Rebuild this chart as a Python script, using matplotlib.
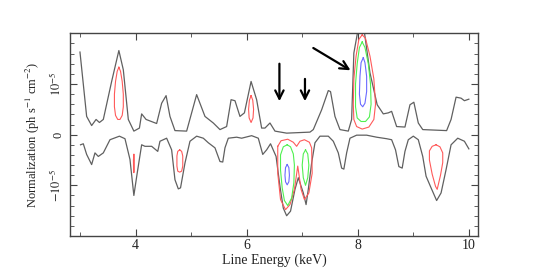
import numpy as np
import matplotlib
matplotlib.use('Agg')
import matplotlib.pyplot as plt
from matplotlib.ticker import MultipleLocator

plt.rcParams['font.family'] = ['Liberation Serif', 'DejaVu Serif']
plt.rcParams['mathtext.fontset'] = 'stix'

# normalization in units of 1e-5
upper_e = [3.00, 3.12, 3.21, 3.29, 3.35, 3.42, 3.57, 3.70, 3.78, 3.87, 3.97, 4.07, 4.11, 4.19,
           4.38, 4.47, 4.55, 4.62, 4.71, 4.92, 5.01, 5.10, 5.25, 5.40, 5.52, 5.64, 5.72, 5.79,
           5.88, 5.96, 6.08, 6.18, 6.27, 6.33, 6.42, 6.51, 6.72, 7.14, 7.20, 7.35, 7.47, 7.51,
           7.59, 7.68, 7.83, 7.89, 7.93, 8.01, 8.11, 8.22, 8.35, 8.46, 8.55, 8.61, 8.70, 8.85,
           8.94, 9.01, 9.09, 9.17, 9.60, 9.68, 9.77, 9.86, 9.92, 10.0]
upper_n = [1.63, 0.36, 0.18, 0.30, 0.24, 0.30, 1.05, 1.66, 1.28, 0.30, 0.07, 0.13, 0.41, 0.30,
           0.22, 0.62, 0.77, 0.36, 0.08, 0.07, 0.43, 0.79, 0.36, 0.23, 0.10, 0.16, 0.69, 0.67,
           0.36, 0.43, 1.05, 0.69, 0.13, 0.13, 0.23, 0.07, 0.03, 0.05, 0.10, 0.49, 0.87, 0.85,
           0.36, 0.10, 0.07, 0.30, 1.61, 2.10, 2.10, 1.22, 0.59, 0.41, 0.43, 0.46, 0.16, 0.15,
           0.59, 0.64, 0.23, 0.10, 0.08, 0.30, 0.74, 0.72, 0.67, 0.70]

lower_e = [3.01, 3.06, 3.12, 3.21, 3.27, 3.33, 3.42, 3.54, 3.71, 3.81, 3.90, 3.97, 4.03, 4.11,
           4.17, 4.29, 4.40, 4.44, 4.56, 4.65, 4.71, 4.77, 4.81, 4.89, 4.98, 5.10, 5.22, 5.31,
           5.43, 5.52, 5.57, 5.61, 5.67, 5.82, 5.91, 6.09, 6.21, 6.29, 6.36, 6.43, 6.53, 6.60,
           6.66, 6.72, 6.79, 6.87, 6.93, 7.02, 7.07, 7.11, 7.17, 7.23, 7.32, 7.47, 7.56, 7.65,
           7.71, 7.75, 7.80, 7.86, 7.98, 8.16, 8.34, 8.52, 8.61, 8.68, 8.74, 8.80, 8.85, 8.91,
           9.00, 9.09, 9.17, 9.23, 9.32, 9.42, 9.50, 9.59, 9.68, 9.80, 9.92, 10.0]
lower_n = [-0.20, -0.18, -0.39, -0.59, -0.36, -0.43, -0.36, -0.10, -0.03, -0.08, -0.49, -1.20, -0.76, -0.20,
           -0.23, -0.23, -0.33, -0.13, -0.07, -0.30, -0.89, -1.07, -1.05, -0.56, -0.13, -0.03, -0.07, -0.16,
           -0.26, -0.53, -0.54, -0.26, -0.07, -0.05, -0.07, -0.02, -0.07, -0.39, -0.30, -0.18, -0.43, -1.02,
           -1.45, -1.60, -1.51, -1.08, -0.85, -1.15, -1.38, -1.08, -0.56, -0.16, -0.03, -0.03, -0.13, -0.36,
           -0.66, -0.68, -0.36, -0.07, -0.01, -0.01, -0.05, -0.08, -0.10, -0.30, -0.63, -0.66, -0.33, -0.10,
           -0.03, -0.10, -0.43, -0.82, -1.05, -1.30, -1.15, -0.69, -0.20, -0.07, -0.13, -0.28]

# contour loops (energy, normalization)
red_loops = [
    [(3.70, 1.33), (3.73, 1.25), (3.76, 1.05), (3.78, 0.80), (3.78, 0.55), (3.76, 0.38), (3.72, 0.30),
     (3.68, 0.30), (3.64, 0.38), (3.62, 0.55), (3.62, 0.80), (3.64, 1.05), (3.67, 1.25)],
    [(6.08, 0.77), (6.11, 0.68), (6.125, 0.50), (6.115, 0.33), (6.08, 0.24), (6.045, 0.33),
     (6.035, 0.50), (6.05, 0.68)],
    [(3.97, -0.39), (3.978, -0.50), (3.975, -0.70), (3.97, -0.75), (3.965, -0.70), (3.962, -0.50)],
    [(4.795, -0.30), (4.83, -0.33), (4.85, -0.42), (4.85, -0.62), (4.83, -0.72), (4.795, -0.74),
     (4.76, -0.72), (4.745, -0.62), (4.745, -0.42), (4.76, -0.33)],
    [(6.56, -0.23), (6.62, -0.12), (6.74, -0.09), (6.84, -0.15), (6.90, -0.23), (6.96, -0.13),
     (7.04, -0.10), (7.13, -0.15), (7.17, -0.26), (7.18, -0.76), (7.12, -1.15), (7.04, -1.28),
     (6.98, -1.08), (6.92, -0.62), (6.86, -1.08), (6.78, -1.38), (6.70, -1.48), (6.61, -1.28),
     (6.56, -0.76)],
    [(9.41, -0.20), (9.48, -0.24), (9.53, -0.36), (9.53, -0.55), (9.49, -0.80), (9.43, -1.08),
     (9.40, -1.02), (9.34, -0.78), (9.29, -0.50), (9.29, -0.32), (9.34, -0.23)],
    [(8.08, 1.97), (8.14, 1.90), (8.22, 1.55), (8.29, 1.10), (8.32, 0.60), (8.29, 0.30), (8.20, 0.15),
     (8.08, 0.11), (7.98, 0.16), (7.93, 0.30), (7.92, 0.60), (7.93, 1.10), (7.97, 1.55), (8.02, 1.88)],
]
green_loops = [
    [(6.73, -0.20), (6.79, -0.24), (6.84, -0.38), (6.86, -0.60), (6.85, -0.95), (6.81, -1.25),
     (6.74, -1.40), (6.68, -1.30), (6.64, -1.05), (6.61, -0.70), (6.61, -0.40), (6.66, -0.24)],
    [(7.06, -0.30), (7.10, -0.38), (7.12, -0.60), (7.10, -0.85), (7.06, -1.00), (7.02, -0.85),
     (7.00, -0.60), (7.02, -0.38)],
    [(8.08, 1.83), (8.13, 1.72), (8.19, 1.40), (8.23, 1.00), (8.24, 0.60), (8.21, 0.35), (8.14, 0.26),
     (8.06, 0.26), (7.99, 0.33), (7.96, 0.55), (7.96, 1.00), (7.99, 1.40), (8.03, 1.72)],
]
blue_loops = [
    [(6.73, -0.59), (6.76, -0.65), (6.77, -0.80), (6.76, -0.93), (6.73, -0.99), (6.70, -0.93),
     (6.69, -0.80), (6.70, -0.65)],
    [(8.10, 1.52), (8.13, 1.42), (8.16, 1.15), (8.16, 0.85), (8.13, 0.62), (8.09, 0.55), (8.05, 0.60),
     (8.03, 0.80), (8.04, 1.15), (8.06, 1.42)],
]

# arrows: (start, end)
arrows = [((6.59, 1.40), (6.59, 0.66)),
          ((7.05, 1.10), (7.05, 0.66)),
          ((7.20, 1.71), (7.87, 1.27))]

yticks = [-1, 0, 1]
ylabels = [r'$-10^{-5}$', '0', r'$10^{-5}$']


fig = plt.figure(figsize=(5.45, 2.73), dpi=100)
ax = fig.add_axes([0.1284, 0.1355, 0.7492, 0.7425])

gray = '#606060'
ax.plot(upper_e, upper_n, color=gray, lw=0.9)
ax.plot(lower_e, lower_n, color=gray, lw=0.9)

def draw_loops(loops, c):
    for lp in loops:
        pts = np.array(lp + [lp[0]])
        ax.plot(pts[:, 0], pts[:, 1], color=c, lw=0.8)

draw_loops(red_loops, '#ff5a5a')
draw_loops(green_loops, '#50f050')
draw_loops(blue_loops, '#6a6aff')

for (x0, y0), (x1, y1) in arrows:
    ax.annotate('', xy=(x1, y1), xytext=(x0, y0),
                arrowprops=dict(arrowstyle='->', color='black', lw=1.6,
                                mutation_scale=15, shrinkA=0, shrinkB=0))

ax.set_xlim(2.82, 10.17)
ax.set_ylim(-2, 2)
ax.xaxis.set_major_locator(MultipleLocator(2))
ax.xaxis.set_minor_locator(MultipleLocator(1))
ax.yaxis.set_minor_locator(MultipleLocator(0.2))
ax.set_yticks(yticks)
ax.set_yticklabels(ylabels, rotation=90, va='center')
ax.tick_params(which='both', direction='in', top=True, right=True, colors='#444444',
               labelcolor='#222222', labelsize=10, pad=2)
ax.tick_params(axis='y', labelsize=9, pad=4)
ax.tick_params(which='major', length=5)
ax.tick_params(which='minor', length=3)
for s in ax.spines.values():
    s.set_color('#444444')
    s.set_linewidth(1.0)

ax.set_xlabel('Line Energy (keV)', fontsize=10, color='#222222', labelpad=1)
ax.set_ylabel(r'Normalization (ph s$^{-1}$ cm$^{-2}$)', fontsize=9, color='#222222', labelpad=5)

fig.savefig('out.png', dpi=100)
